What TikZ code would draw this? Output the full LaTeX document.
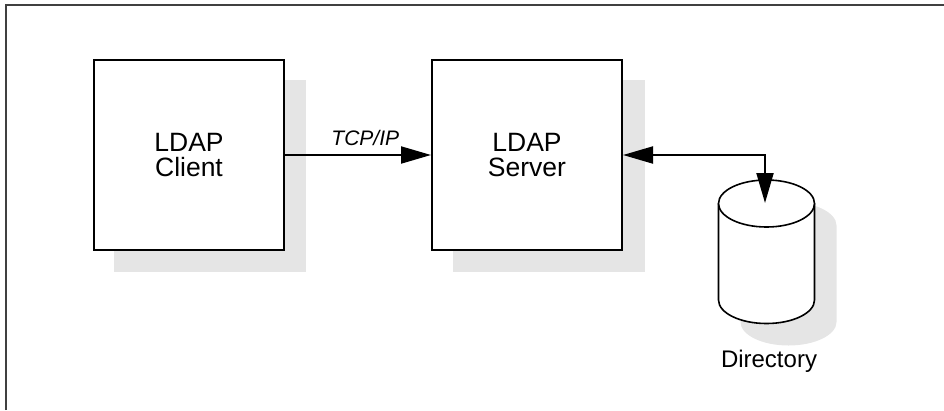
\documentclass[tikz,border=0pt]{standalone}
\usepackage{fontspec}
\setmainfont{Liberation Sans}
\usetikzlibrary{arrows.meta}
\definecolor{shadowgray}{HTML}{E5E5E5}
\tikzset{
  boxnode/.style={draw=black, line width=2pt, fill=white, minimum width=190pt, minimum height=190pt, inner sep=0pt, align=center, font=\fontsize{26.5}{25.5}\selectfont},
  shadowbox/.style={fill=shadowgray, draw=none},
  conn/.style={line width=2pt, -{Triangle[length=30pt,width=17pt]}},
  biconn/.style={line width=2pt, {Triangle[length=30pt,width=17pt]}-{Triangle[length=30pt,width=17pt]}},
  framel/.style={draw=black!75, line width=1.3pt},
  cyl/.style={draw=black, line width=1.6pt, fill=white}
}
\begin{document}
\begin{tikzpicture}[x=1pt,y=-1pt]
\useasboundingbox (0,0) rectangle (944,410);
% frame
\draw[framel] (6,410) -- (6,5) -- (944,5);
% shadows
\fill[shadowbox] (114,80) rectangle (306,272);
\fill[shadowbox] (453,80) rectangle (645,272);
\fill[shadowbox] (740.5,225.5) arc[start angle=180,end angle=0,x radius=48pt,y radius=23.5pt]
  -- (836.5,322) arc[start angle=0,end angle=-180,x radius=48pt,y radius=23.5pt] -- cycle;
% boxes
\node[boxnode] (client) at (189,155) {LDAP\\Client};
\node[boxnode] (server) at (527,155) {LDAP\\Server};
% cylinder
\draw[cyl] (718.5,203.5) -- (718.5,300) arc[start angle=180,end angle=360,x radius=48pt,y radius=23.5pt] -- (814.5,203.5);
\draw[cyl] (766.5,203.5) ellipse[x radius=48pt,y radius=23.5pt];
\coordinate (dirtop) at (765,203);
\node[inner sep=0pt, anchor=base, font=\fontsize{24}{27}\selectfont] (dirlabel) at (769,367) {Directory};
% connectors
\draw[conn] (client.east) -- node[pos=0.55, above=8pt, inner sep=0pt, font=\fontsize{21}{24}\selectfont\itshape] (tcp) {TCP/IP} (server.west);
\draw[biconn] (server.east) -- (dirtop |- server.east) -- (dirtop);
\end{tikzpicture}
\end{document}
